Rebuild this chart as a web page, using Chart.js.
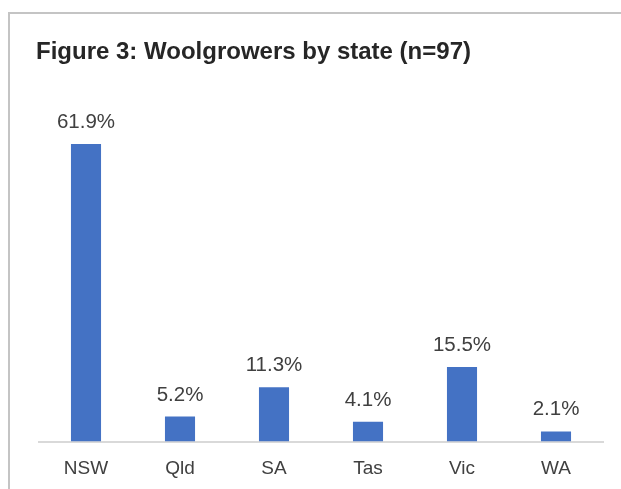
<!DOCTYPE html>
<html>
<head>
<meta charset="utf-8">
<script src="https://cdn.jsdelivr.net/npm/chart.js@4.4.0/dist/chart.umd.min.js"></script>
<style>
  html, body { margin: 0; padding: 0; background: #fff; }
  #wrap { position: relative; width: 621px; height: 489px; overflow: hidden; }
  #frame {
    position: absolute; left: 8px; top: 12px; right: 0; bottom: 0;
    border-top: 2px solid #c4c4c4; border-left: 2px solid #c4c4c4;
  }
  #title {
    position: absolute; left: 36px; top: 37px;
    font-family: "Liberation Sans", Arial, sans-serif;
    font-weight: bold; font-size: 24px; color: #262626; white-space: nowrap;
  }
  #myChart { position: absolute; left: 0; top: 0; }
</style>
</head>
<body>
<div id="wrap">
  <div id="frame"></div>
  <canvas id="myChart" width="621" height="489"></canvas>
  <div id="title">Figure 3: Woolgrowers by state (n=97)</div>
</div>
<script>
var states = ['NSW', 'Qld', 'SA', 'Tas', 'Vic', 'WA'];
var shares = [61.9, 5.2, 11.3, 4.1, 15.5, 2.1];

// draw the % label above every bar
const barLabels = {
    id: 'barLabels',
    afterDatasetsDraw(chart) {
        const ctx = chart.ctx;
        const meta = chart.getDatasetMeta(0);
        ctx.save();
        ctx.font = '20.5px "Liberation Sans", Arial, sans-serif';
        ctx.fillStyle = '#404040';
        ctx.textAlign = 'center';
        ctx.textBaseline = 'alphabetic';
        meta.data.forEach(function(bar, i) {
            ctx.fillText(shares[i].toFixed(1) + '%', bar.x, bar.y - 16);
        });
        ctx.restore();
    }
};

const ctx = document.getElementById('myChart').getContext('2d');
const myChart = new Chart(ctx, {
    type: 'bar',
    data: {
        labels: states,
        datasets: [
        {
            data: shares,
            backgroundColor: '#4472C4',
            borderWidth: 0,
            barPercentage: 0.32,
            categoryPercentage: 1
        }
    ]
    },
    options: {
        responsive: false,
        animation: false,
        layout: {
            padding: { left: 39, right: 18, top: 105, bottom: 7.5 }
        },
        plugins: {
            legend: { display: false },
            tooltip: { enabled: false }
        },
        scales: {
            x: {
                grid: { display: false, drawTicks: false },
                border: { display: true, color: '#d9d9d9', width: 2 },
                ticks: {
                    color: '#404040',
                    padding: 16,
                    font: { family: '"Liberation Sans", Arial, sans-serif', size: 19 }
                },
                afterFit: function(scale) { scale.height = 40; }
            },
            y: {
                display: false,
                beginAtZero: true,
                min: 0,
                max: 70
            }
        }
    },
    plugins: [barLabels]
});
</script>
</body>
</html>
